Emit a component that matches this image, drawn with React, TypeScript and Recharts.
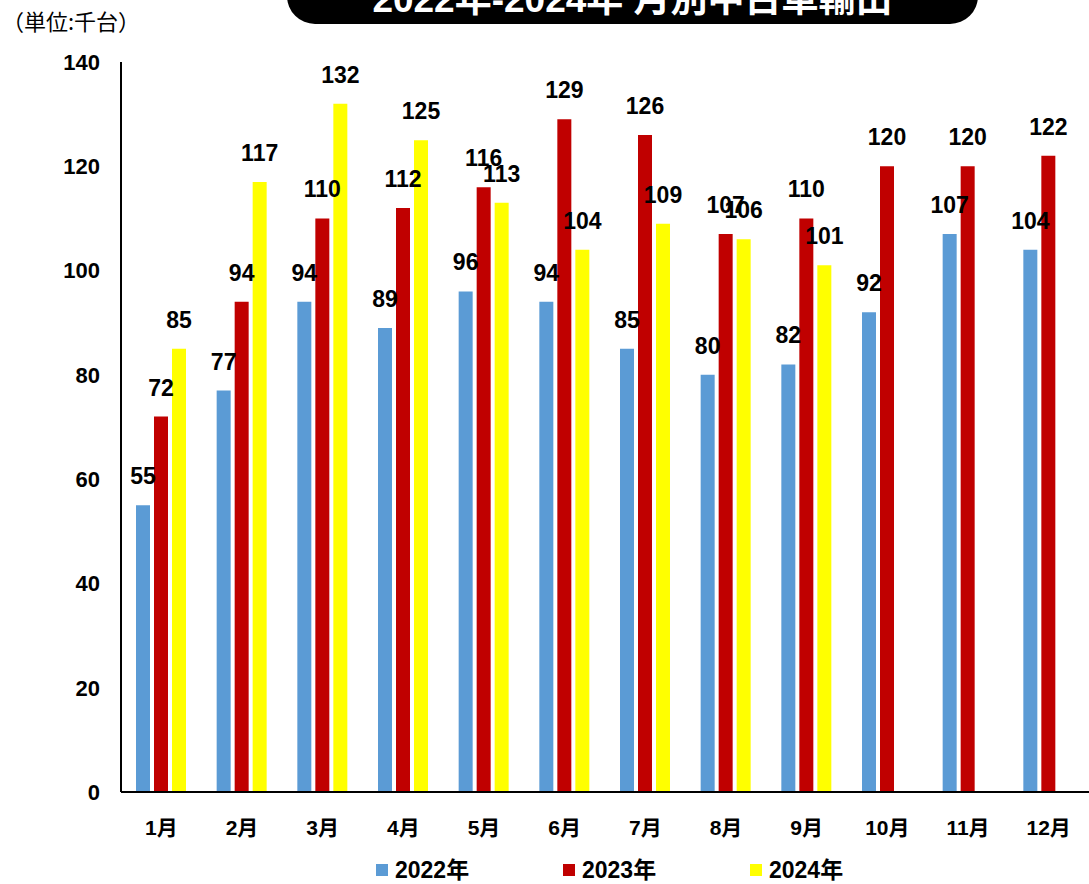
import React from "react";
import { BarChart, Bar, XAxis, YAxis, LabelList } from "recharts";

// 月別データ(千台)
const months = ["1月", "2月", "3月", "4月", "5月", "6月", "7月", "8月", "9月", "10月", "11月", "12月"];
const y2022 = [55, 77, 94, 89, 96, 94, 85, 80, 82, 92, 107, 104];
const y2023 = [72, 94, 110, 112, 116, 129, 126, 107, 110, 120, 120, 122];
const y2024: (number | null)[] = [85, 117, 132, 125, 113, 104, 109, 106, 101, null, null, null];
const yTicks = [0, 20, 40, 60, 80, 100, 120, 140];

const series = [
  { key: "y2022", name: "2022年", color: "#5B9BD5" },
  { key: "y2023", name: "2023年", color: "#C00000" },
  { key: "y2024", name: "2024年", color: "#FFFF00" },
];

const data = months.map((m, i) => ({
  month: m,
  y2022: y2022[i],
  y2023: y2023[i],
  y2024: y2024[i],
}));

const FONT = '"Liberation Sans", Arial, "Noto Sans CJK JP", sans-serif';

export default function App() {
  return (
    <div
      style={{
        position: "absolute",
        left: 0,
        top: 0,
        width: 1089,
        height: 884,
        overflow: "hidden",
        background: "#fff",
        fontFamily: FONT,
      }}
    >
      {/* タイトル(上端で切れている) */}
      <div
        style={{
          position: "absolute",
          left: 287,
          top: -40,
          width: 691,
          height: 64,
          background: "#000",
          borderRadius: 28,
        }}
      />
      <div
        style={{
          position: "absolute",
          left: 287,
          top: -19,
          width: 691,
          lineHeight: "38px",
          fontSize: 37,
          fontWeight: "bold",
          color: "#fff",
          textAlign: "center",
          whiteSpace: "nowrap",
        }}
      >
        2022年-2024年 月別中古車輸出
      </div>
      <div
        style={{
          position: "absolute",
          left: 2,
          top: 5,
          fontSize: 22,
          lineHeight: "30px",
          color: "#000",
          fontFamily: '"Noto Sans CJK JP", sans-serif',
        }}
      >
        （単位:千台）
      </div>

      <div style={{ position: "absolute", left: 0, top: 0 }}>
        <BarChart
          width={1089}
          height={884}
          data={data}
          margin={{ top: 62, right: 0, left: 0, bottom: 42 }}
          barSize={14}
          barGap={4}
        >
          <XAxis
            dataKey="month"
            height={50}
            axisLine={{ stroke: "#000", strokeWidth: 2 }}
            tickLine={false}
            tickSize={0}
            tickMargin={28}
            tick={{ fill: "#000", fontSize: 21, fontWeight: "bold", fontFamily: FONT }}
          />
          <YAxis
            width={121}
            domain={[0, 140]}
            ticks={yTicks}
            interval={0}
            axisLine={{ stroke: "#000", strokeWidth: 2 }}
            tickLine={false}
            tickSize={0}
            tickMargin={21}
            tick={{ fill: "#000", fontSize: 22, fontWeight: "bold", fontFamily: FONT }}
          />
          {series.map((s) => (
            <Bar key={s.key} dataKey={s.key} name={s.name} fill={s.color} isAnimationActive={false}>
              <LabelList
                dataKey={s.key}
                position="top"
                offset={21}
                style={{ fill: "#000", fontSize: 23, fontWeight: "bold", fontFamily: FONT }}
              />
            </Bar>
          ))}
        </BarChart>
      </div>

      {/* 凡例 */}
      <div
        style={{
          position: "absolute",
          top: 857,
          left: 376,
          display: "flex",
          fontSize: 23,
          fontWeight: "bold",
          lineHeight: "26px",
        }}
      >
        {series.map((s) => (
          <div key={s.key} style={{ display: "flex", alignItems: "center", width: 187 }}>
            <span style={{ width: 12, height: 12, background: s.color, marginRight: 7, display: "inline-block" }} />
            <span>{s.name}</span>
          </div>
        ))}
      </div>
    </div>
  );
}
